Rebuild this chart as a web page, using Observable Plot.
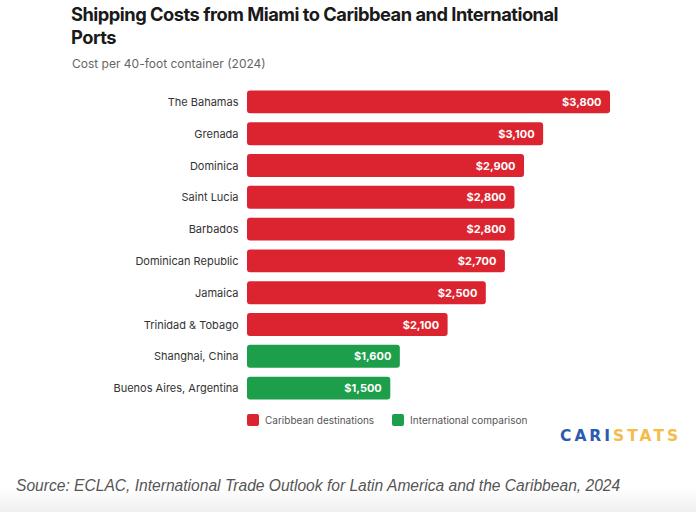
<!DOCTYPE html>
<html>
<head>
<meta charset="utf-8">
<script src="https://cdn.jsdelivr.net/npm/d3@7"></script>
<script src="https://cdn.jsdelivr.net/npm/@observablehq/plot@0.6"></script>
<style>
  html, body { margin: 0; padding: 0; }
  body { width: 696px; height: 512px; position: relative; overflow: hidden;
         background: linear-gradient(to bottom, #ffffff 0px, #ffffff 488px, #efefef 512px);
         font-family: Inter, "Noto Sans", sans-serif; }
  #title { position: absolute; left: 71px; top: 3px; font-size: 18.3px; font-weight: 700;
           line-height: 23px; color: #1a1a1a; letter-spacing: -0.5px; }
  #subtitle { position: absolute; left: 72px; top: 56px; font-size: 12px; color: #666; }
  #chart { position: absolute; left: 0; top: 78px; }
  #legend { position: absolute; left: 247px; top: 414px; font-size: 10px; color: #555;
            display: flex; gap: 18px; }
  #legend .item { display: flex; align-items: center; gap: 6px; }
  #legend .sw { width: 12px; height: 12px; border-radius: 2px; display: inline-block; }
  #logo { position: absolute; left: 560px; top: 427px; font-size: 15.5px; font-weight: 800;
          letter-spacing: 3px; font-family: "DejaVu Sans", sans-serif; }
  #source { position: absolute; left: 16px; top: 477px; font-size: 15.6px; font-style: italic;
            color: #555; font-family: "Liberation Sans", Arial, sans-serif; }
</style>
</head>
<body>
<div id="title">Shipping Costs from Miami to Caribbean and International<br>Ports</div>
<div id="subtitle">Cost per 40-foot container (2024)</div>
<div id="chart"></div>
<div id="legend"></div>
<div id="logo"><span style="color:#2a5bb0">CARI</span><span style="color:#f5bc4a">STATS</span></div>
<div id="source">Source: ECLAC, International Trade Outlook for Latin America and the Caribbean, 2024</div>
<script>
const ports = ["The Bahamas", "Grenada", "Dominica", "Saint Lucia", "Barbados",
  "Dominican Republic", "Jamaica", "Trinidad & Tobago", "Shanghai, China", "Buenos Aires, Argentina"];
const costs = [3800, 3100, 2900, 2800, 2800, 2700, 2500, 2100, 1600, 1500];
const groups = ["Caribbean destinations", "Caribbean destinations", "Caribbean destinations",
  "Caribbean destinations", "Caribbean destinations", "Caribbean destinations",
  "Caribbean destinations", "Caribbean destinations", "International comparison", "International comparison"];
const groupNames = ["Caribbean destinations", "International comparison"];
const groupColors = ["#dc2430", "#1d9e4b"];

const data = ports.map((p, i) => ({port: p, cost: costs[i], group: groups[i]}));
const fmt = d => "$" + d3.format(",")(d);

const chart = Plot.plot({
  width: 696,
  height: 326,
  marginLeft: 247,
  marginRight: 86,
  marginTop: 8,
  marginBottom: 0,
  style: {fontFamily: "Inter, 'Noto Sans', sans-serif", fontSize: "11px", color: "#333", background: "transparent"},
  x: {domain: [0, 3800], axis: null},
  y: {domain: ports, paddingInner: 0.28, paddingOuter: 0.14, round: false, label: null, tickSize: 0, tickPadding: 9},
  color: {domain: groupNames, range: groupColors},
  marks: [
    Plot.barX(data, {x: "cost", y: "port", fill: "group", rx: 3}),
    Plot.text(data, {x: "cost", y: "port", text: d => fmt(d.cost), textAnchor: "end", dx: -9,
      fill: "white", fontWeight: "700", fontSize: 11}),
    Plot.axisY({tickSize: 0, tickPadding: 9, fontSize: 11, label: null})
  ]
});
document.getElementById("chart").appendChild(chart);

const legend = document.getElementById("legend");
groupNames.forEach((g, i) => {
  const it = document.createElement("div");
  it.className = "item";
  it.innerHTML = `<span class="sw" style="background:${groupColors[i]}"></span><span>${g}</span>`;
  legend.appendChild(it);
});
</script>
</body>
</html>
